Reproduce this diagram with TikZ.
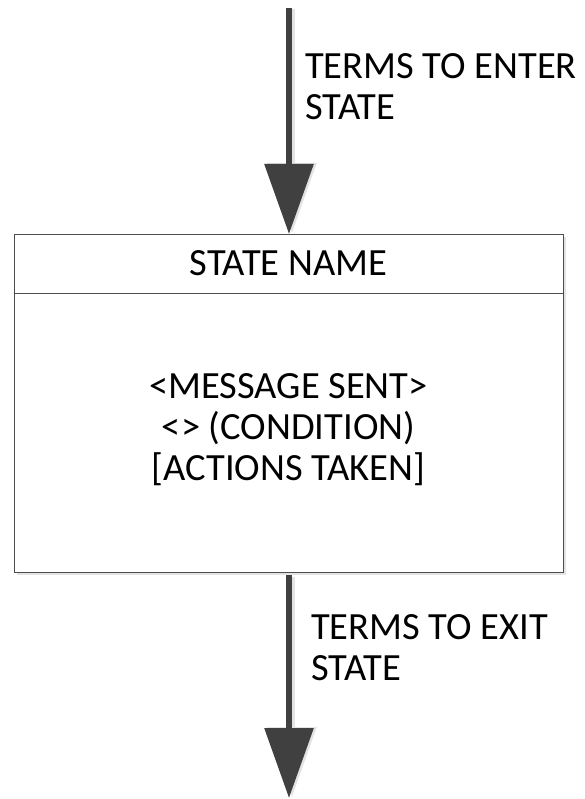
\documentclass[tikz,border=0pt]{standalone}
\usepackage{fontspec}
\setmainfont{Carlito}
\usetikzlibrary{arrows.meta}
\definecolor{arrowgray}{HTML}{404040}
\definecolor{boxgray}{HTML}{4D4D4D}
\definecolor{shadowgray}{HTML}{E3E3E3}
\begin{document}
\begin{tikzpicture}[x=1pt,y=-1pt,
  bigfont/.style={font=\fontsize{38.5}{41}\selectfont},
  lbl/.style={bigfont, inner sep=0pt, align=left, anchor=base west},
  flow/.style={draw=arrowgray, line width=6pt, -{Triangle[length=70pt,width=48pt]}},
  flowshadow/.style={draw=shadowgray, line width=6pt, -{Triangle[length=70pt,width=48pt]}},
  statebox/.style={draw=boxgray, fill=white, line width=1pt, minimum width=549pt, minimum height=338pt, inner sep=0pt, anchor=north west}]
\useasboundingbox (0,0) rectangle (584,799);
% coordinates
\coordinate (t0) at (289,8);
\coordinate (b1) at (289,798);
\coordinate (dl) at (14,293);
\coordinate (dr) at (563,293);
% shadows
\fill[shadowgray] (17,237) rectangle (566,575);
\draw[flowshadow] (292,9) -- (292,233);
\draw[flowshadow] (292,577) -- (292,797);
% box
\node[statebox] (box) at (14,234) {};
\draw[boxgray, line width=1pt] (dl) -- (dr);
\node[bigfont, inner sep=0pt, anchor=base] (name) at (288.5,276) {STATE NAME};
\node[bigfont, inner sep=0pt, align=center, anchor=base] (body) at (288.5,480)
  {<MESSAGE SENT>\\<> (CONDITION)\\{[}ACTIONS TAKEN{]}};
% arrows
\draw[flow] (t0) -- (t0 |- box.north);
\draw[flow, shorten <=2pt] (box.south -| b1) -- (b1);
% labels
\node[lbl] (enter) at (305,120) {TERMS TO ENTER\\STATE};
\node[lbl] (exit) at (311,680) {TERMS TO EXIT\\STATE};
\end{tikzpicture}
\end{document}
